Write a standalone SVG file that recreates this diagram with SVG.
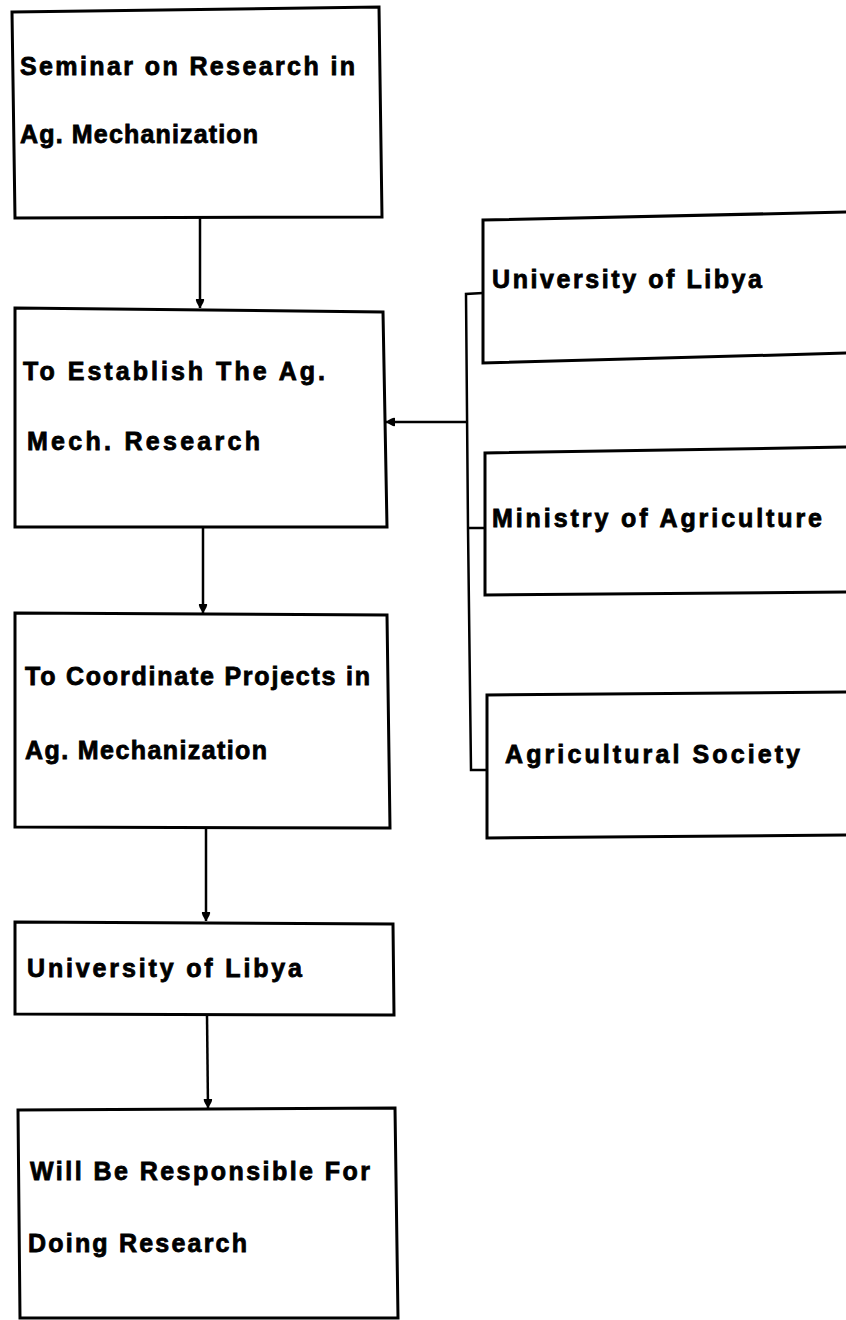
<svg xmlns="http://www.w3.org/2000/svg" width="846" height="1320" viewBox="0 0 846 1320">
<style>
.box{fill:none;stroke:#000;stroke-width:3;stroke-linejoin:miter}
.lbl{font-family:"Liberation Sans",Arial,sans-serif;font-weight:bold;font-size:25px;fill:#000;stroke:#000;stroke-width:0.8}
.conn{fill:none;stroke:#000;stroke-width:2.5}
</style>
<defs>
<marker id="ah" markerUnits="userSpaceOnUse" markerWidth="10" markerHeight="10" refX="9" refY="5" orient="auto">
<path d="M0,1 Q2,0 9,5 Q2,10 0,9 Z" fill="#000"/>
</marker>
</defs>
<rect x="0" y="0" width="846" height="1320" fill="#fff"/>
<g id="connectors">
<path class="conn" d="M200,217 L200,308" marker-end="url(#ah)"/>
<path class="conn" d="M203,527 L203,613" marker-end="url(#ah)"/>
<path class="conn" d="M206,828 L206,921" marker-end="url(#ah)"/>
<path class="conn" d="M207,1015 L208,1108" marker-end="url(#ah)"/>
<path class="conn" d="M483,293 L466,294 L468,528 L471,770 L487,770"/>
<path class="conn" d="M468,528 L485,528"/>
<path class="conn" d="M467,422 L386,422" marker-end="url(#ah)"/>
</g>
<g id="n1">
<path class="box" d="M12,12 L379,7 L382,217 L15,218 Z"/>
<text class="lbl" x="20" y="75" textLength="335" lengthAdjust="spacing">Seminar on Research  in</text>
<text class="lbl" x="20" y="143" textLength="238" lengthAdjust="spacing">Ag. Mechanization</text>
</g>
<g id="n2">
<path class="box" d="M15,308 L383,312 L387,527 L15,527 Z"/>
<text class="lbl" x="23" y="380" textLength="302" lengthAdjust="spacing">To Establish The Ag.</text>
<text class="lbl" x="27" y="450" textLength="233" lengthAdjust="spacing">Mech.  Research</text>
</g>
<g id="n3">
<path class="box" d="M15,613 L387,615 L390,828 L15,827 Z"/>
<text class="lbl" x="25" y="685" textLength="345" lengthAdjust="spacing">To Coordinate Projects in</text>
<text class="lbl" x="25" y="759" textLength="242" lengthAdjust="spacing">Ag. Mechanization</text>
</g>
<g id="n4">
<path class="box" d="M15,922 L393,924 L394,1015 L15,1014 Z"/>
<text class="lbl" x="27" y="977" textLength="275" lengthAdjust="spacing">University of  Libya</text>
</g>
<g id="n5">
<path class="box" d="M18,1110 L395,1108 L398,1318 L20,1318 Z"/>
<text class="lbl" x="30" y="1180" textLength="340" lengthAdjust="spacing">Will Be Responsible For</text>
<text class="lbl" x="28" y="1252" textLength="219" lengthAdjust="spacing">Doing Research</text>
</g>
<g id="r1">
<path class="box" d="M850,212 L483,220 L483,363 L850,353"/>
<text class="lbl" x="492" y="288" textLength="270" lengthAdjust="spacing">University of  Libya</text>
</g>
<g id="r2">
<path class="box" d="M850,447 L485,453 L485,595 L850,592"/>
<text class="lbl" x="492" y="527" textLength="330" lengthAdjust="spacing">Ministry of  Agriculture</text>
</g>
<g id="r3">
<path class="box" d="M850,692 L487,695 L487,838 L850,835"/>
<text class="lbl" x="505" y="763" textLength="295" lengthAdjust="spacing">Agricultural  Society</text>
</g>
</svg>
